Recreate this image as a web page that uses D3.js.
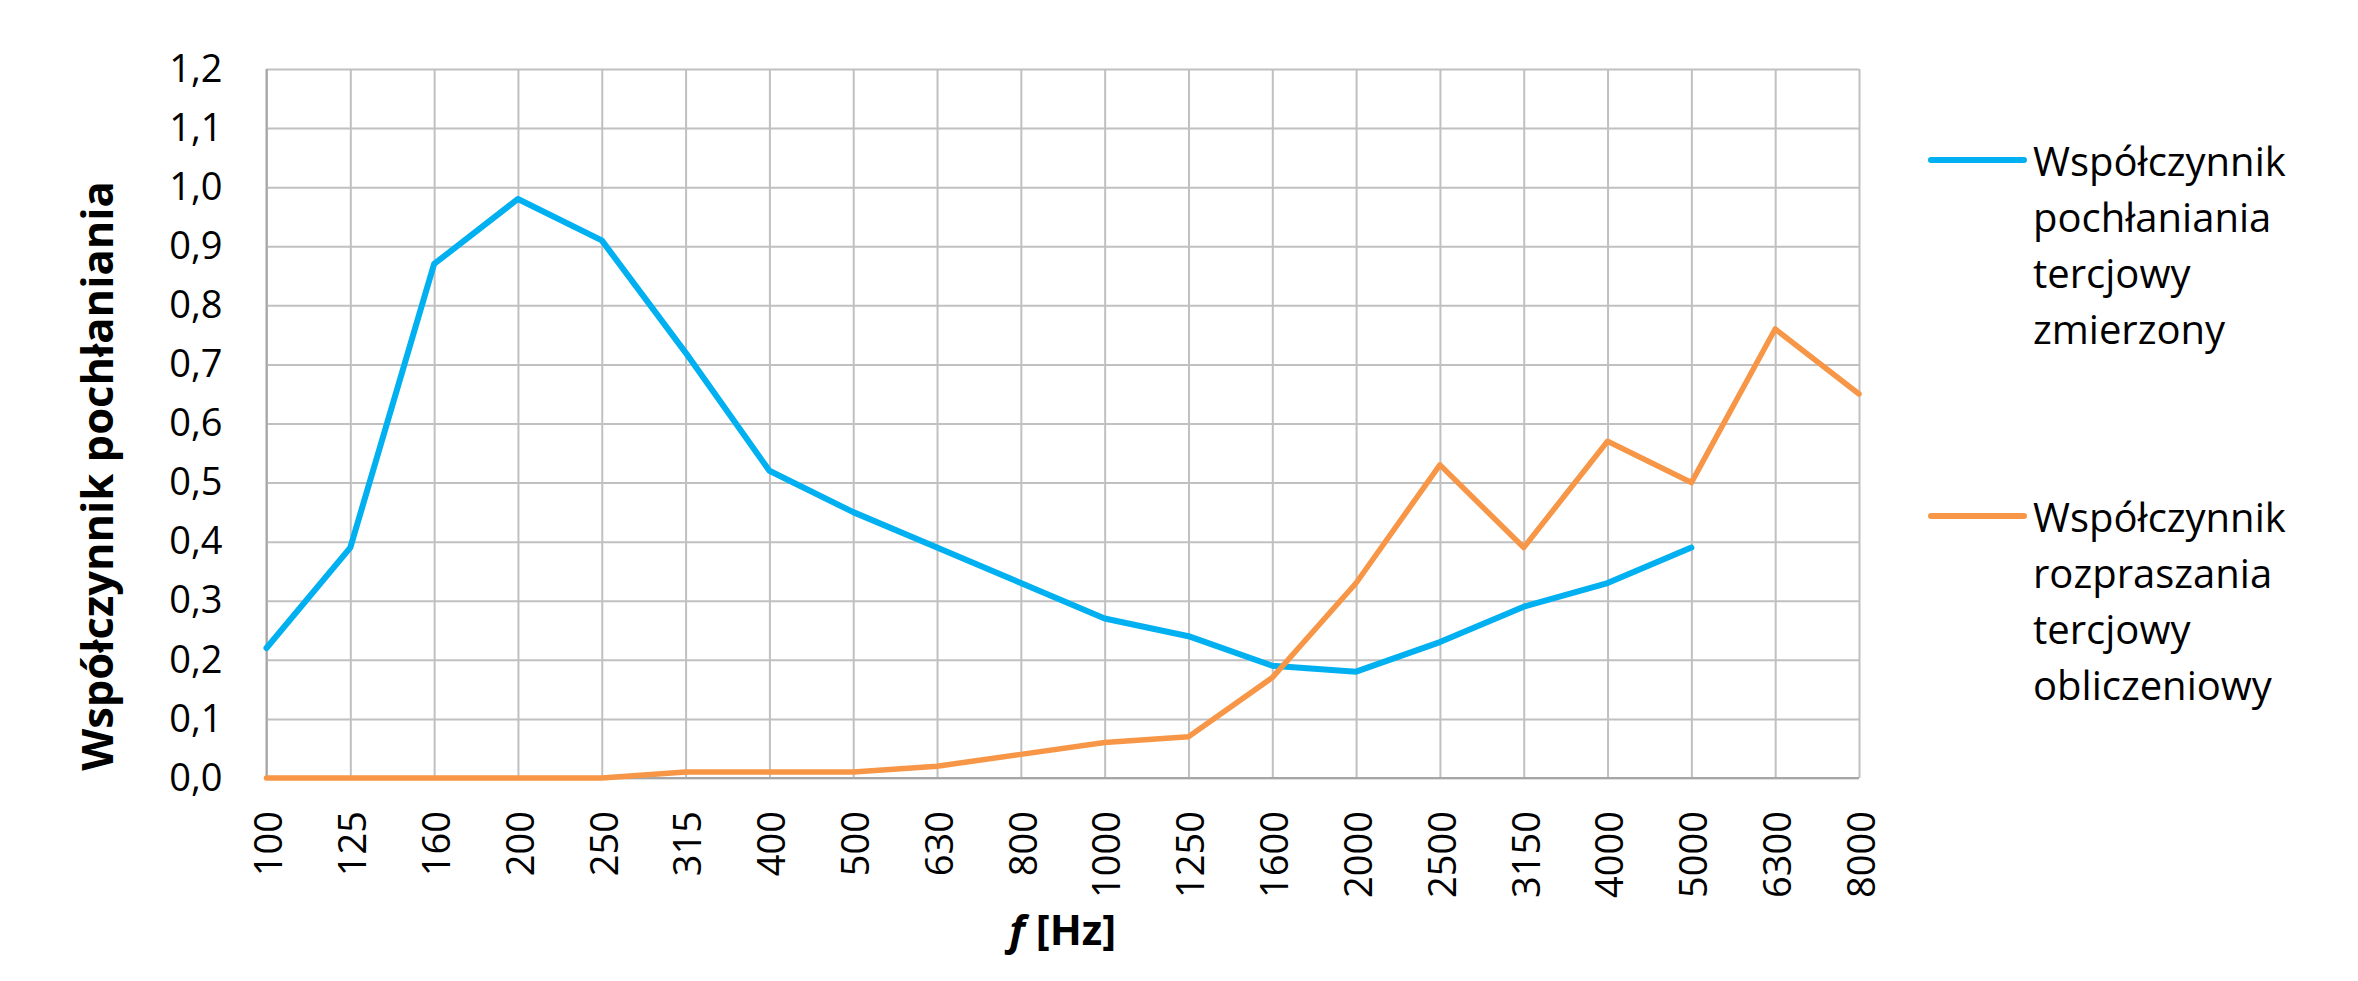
<!DOCTYPE html>
<html>
<head>
<meta charset="utf-8">
<script src="https://cdn.jsdelivr.net/npm/d3@7"></script>
<style>
  html, body { margin: 0; padding: 0; background: #fff; }
  svg { display: block; font-family: "Open Sans", "Noto Sans", sans-serif; }
</style>
</head>
<body>
<svg id="chart" width="2358" height="981"></svg>
<script>
// ---- data ----
const frequencies = ["100","125","160","200","250","315","400","500","630","800","1000","1250","1600","2000","2500","3150","4000","5000","6300","8000"];
const absorptionMeasured = [0.22,0.39,0.87,0.98,0.91,0.72,0.52,0.45,0.39,0.33,0.27,0.24,0.19,0.18,0.23,0.29,0.33,0.39,null,null];
const scatteringCalculated = [0.00,0.00,0.00,0.00,0.00,0.01,0.01,0.01,0.02,0.04,0.06,0.07,0.17,0.33,0.53,0.39,0.57,0.50,0.76,0.65];
const yTicks = [0,0.1,0.2,0.3,0.4,0.5,0.6,0.7,0.8,0.9,1.0,1.1,1.2];
const seriesNames = [
  ["Współczynnik","pochłaniania","tercjowy","zmierzony"],
  ["Współczynnik","rozpraszania","tercjowy","obliczeniowy"]
];
const seriesColors = ["#00B0F0", "#F79646"];
const yTitle = "Współczynnik pochłaniania";

// ---- layout ----
const pLeft = 266.5, pRight = 1859, pTop = 69, pBottom = 778;
const svg = d3.select("#chart");

const x = d3.scalePoint().domain(frequencies).range([pLeft, pRight]);
const y = d3.scaleLinear().domain([0, 1.2]).range([pBottom, pTop]);

// horizontal gridlines + y labels
const yAxis = d3.axisLeft(y).tickValues(yTicks)
  .tickSize(-(pRight - pLeft)).tickPadding(44)
  .tickFormat(d => d3.format(".1f")(d).replace(".", ","));
const gy = svg.append("g").attr("transform", `translate(${pLeft},0)`).call(yAxis);
gy.select(".domain").remove();
gy.selectAll(".tick line").attr("stroke", "#c0c0c0").attr("stroke-width", 2);
gy.selectAll(".tick text").attr("font-size", 38).attr("fill", "#000").attr("font-family", "Open Sans");

// vertical gridlines + x labels
const xAxis = d3.axisBottom(x).tickSize(-(pBottom - pTop)).tickPadding(0);
const gx = svg.append("g").attr("transform", `translate(0,${pBottom})`).call(xAxis);
gx.select(".domain").remove();
gx.selectAll(".tick line").attr("stroke", "#c0c0c0").attr("stroke-width", 2);
gx.selectAll(".tick text")
  .attr("font-size", 38).attr("fill", "#000").attr("font-family", "Open Sans")
  .attr("text-anchor", "end")
  .attr("transform", "translate(2,33) rotate(-90)")
  .attr("x", 0).attr("y", 0).attr("dy", "0.35em");

// axis lines
svg.append("line").attr("x1", pLeft).attr("x2", pLeft).attr("y1", pTop).attr("y2", pBottom)
  .attr("stroke", "#a6a6a6").attr("stroke-width", 2);
svg.append("line").attr("x1", pLeft).attr("x2", pRight).attr("y1", pBottom).attr("y2", pBottom)
  .attr("stroke", "#a6a6a6").attr("stroke-width", 2);

// series lines
const line = d3.line()
  .defined(d => d.v !== null)
  .x(d => x(d.f)).y(d => y(d.v));
[absorptionMeasured, scatteringCalculated].forEach((vals, i) => {
  const data = frequencies.map((f, k) => ({f, v: vals[k]}));
  svg.append("path").datum(data)
    .attr("d", line)
    .attr("fill", "none")
    .attr("stroke", seriesColors[i])
    .attr("stroke-width", i === 0 ? 6 : 5.5)
    .attr("stroke-linejoin", "round")
    .attr("stroke-linecap", "round");
});

// axis titles
svg.append("text")
  .attr("transform", "translate(113,476) rotate(-90)")
  .attr("text-anchor", "middle")
  .attr("font-size", 43.5).attr("font-weight", "bold")
  .attr("fill", "#000")
  .text(yTitle);

const xt = svg.append("text")
  .attr("x", (pLeft + pRight) / 2).attr("y", 945)
  .attr("text-anchor", "middle")
  .attr("font-size", 42).attr("font-weight", "bold").attr("fill", "#000");
xt.append("tspan").attr("font-style", "italic").text("f");
xt.append("tspan").text(" [Hz]");

// legend
const legendY = [160, 516];
seriesNames.forEach((lines, i) => {
  const g = svg.append("g");
  g.append("line")
    .attr("x1", 1931).attr("x2", 2024)
    .attr("y1", legendY[i]).attr("y2", legendY[i])
    .attr("stroke", seriesColors[i]).attr("stroke-width", 6)
    .attr("stroke-linecap", "round");
  const t = g.append("text")
    .attr("x", 2033).attr("y", legendY[i] + 15.5)
    .attr("font-size", 40).attr("fill", "#000");
  lines.forEach((s, k) => {
    t.append("tspan").attr("x", 2033).attr("dy", k === 0 ? 0 : 56).text(s);
  });
});
</script>
</body>
</html>
